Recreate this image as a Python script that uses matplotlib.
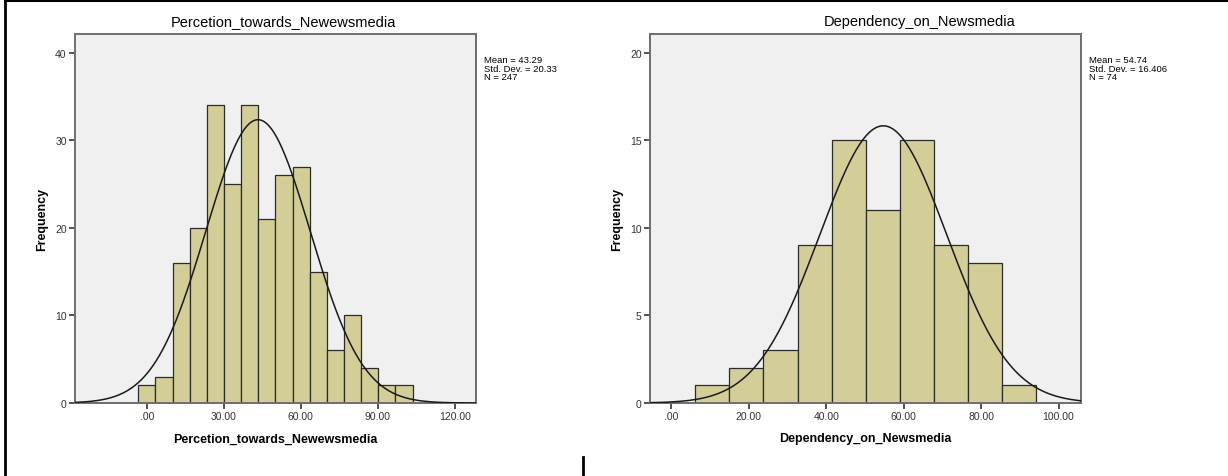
import numpy as np
import matplotlib
matplotlib.use("Agg")
from matplotlib import pyplot as plt
from matplotlib.lines import Line2D
from matplotlib.ticker import FuncFormatter

plt.rcParams['font.family'] = ['Liberation Sans', 'DejaVu Sans']

# Percetion_towards_Newewsmedia: 16 bins
perc_counts = [2, 3, 16, 20, 34, 25, 34, 21, 26, 27, 15, 6, 10, 4, 2, 2]
perc_bin_start = -3.38
perc_bin_width = 6.68
perc_mean, perc_sd, perc_n = 43.29, 20.33, 247
perc_xticks = [0, 30, 60, 90, 120]
perc_yticks = [0, 10, 20, 30, 40]

# Dependency_on_Newsmedia: 10 bins
dep_counts = [1, 2, 3, 9, 15, 11, 15, 9, 8, 1]
dep_bin_start = 6.2
dep_bin_width = 8.8
dep_mean, dep_sd, dep_n = 54.74, 16.406, 74
dep_xticks = [0, 20, 40, 60, 80, 100]
dep_yticks = [0, 5, 10, 15, 20]

bar_color = '#d3ce97'
face_color = '#f0f0f0'
spine_color = '#6e6e6e'


def spss_fmt(v, pos):
    s = f"{v:.2f}"
    if s.startswith("0."):
        s = s[1:]
    return s


def histo(ax, counts, start, bw, mean, sd, n, xlim, ylim, xticks, yticks, name):
    edges = start + bw * np.arange(len(counts) + 1)
    ax.bar(edges[:-1], counts, width=bw, align='edge', color=bar_color,
           edgecolor='#2b2b2b', linewidth=0.9, zorder=2)
    x = np.linspace(xlim[0], xlim[1], 400)
    y = n * bw * np.exp(-0.5 * ((x - mean) / sd) ** 2) / (sd * np.sqrt(2 * np.pi))
    ax.plot(x, y, color='#1a1a1a', linewidth=1.1, zorder=3)
    ax.set_xlim(*xlim)
    ax.set_ylim(*ylim)
    ax.set_facecolor(face_color)
    ax.set_xticks(xticks)
    ax.set_yticks(yticks)
    ax.xaxis.set_major_formatter(FuncFormatter(spss_fmt))
    ax.tick_params(axis='both', direction='out', length=4, width=1.2,
                   color='#333333', labelsize=7.5, labelcolor='#333333', pad=2)
    for sp in ax.spines.values():
        sp.set_color(spine_color)
        sp.set_linewidth(1.4)
    ax.set_xlabel(name, fontsize=9, fontweight='bold', labelpad=8)
    ax.set_ylabel('Frequency', fontsize=9, fontweight='bold', labelpad=5)


fig = plt.figure(figsize=(12.28, 4.77), dpi=100)

ax1 = fig.add_axes([75 / 1228, 73 / 477, 401 / 1228, 369 / 477])
histo(ax1, perc_counts, perc_bin_start, perc_bin_width, perc_mean, perc_sd, perc_n,
      (-28.0, 128.2), (0, 42.17), perc_xticks, perc_yticks,
      'Percetion_towards_Newewsmedia')
fig.text(283 / 1228, 1 - 22 / 477, 'Percetion_towards_Newewsmedia',
         ha='center', va='center', fontsize=10.5)
fig.text(484 / 1228, 1 - 56 / 477,
         f'Mean = {perc_mean:.2f}\nStd. Dev. = {perc_sd:.2f}\nN = {perc_n}',
         ha='left', va='top', fontsize=6.8, linespacing=0.95)

ax2 = fig.add_axes([650 / 1228, 73 / 477, 431 / 1228, 369 / 477])
histo(ax2, dep_counts, dep_bin_start, dep_bin_width, dep_mean, dep_sd, dep_n,
      (-5.5, 105.8), (0, 21.08), dep_xticks, dep_yticks,
      'Dependency_on_Newsmedia')
fig.text(920 / 1228, 1 - 22 / 477, 'Dependency_on_Newsmedia',
         ha='center', va='center', fontsize=10.5)
fig.text(1089 / 1228, 1 - 56 / 477,
         f'Mean = {dep_mean:.2f}\nStd. Dev. = {dep_sd:.3f}\nN = {dep_n}',
         ha='left', va='top', fontsize=6.8, linespacing=0.95)

# page border lines around the charts
fig.add_artist(Line2D([5 / 1228, 5 / 1228], [0, 1 - 2 / 477], color='black', linewidth=2))
fig.add_artist(Line2D([5 / 1228, 1], [1 - 2 / 477, 1 - 2 / 477], color='black', linewidth=1.5))
fig.add_artist(Line2D([583 / 1228, 583 / 1228], [0, 19 / 477], color='black', linewidth=2))

fig.savefig('out.png', dpi=100)
